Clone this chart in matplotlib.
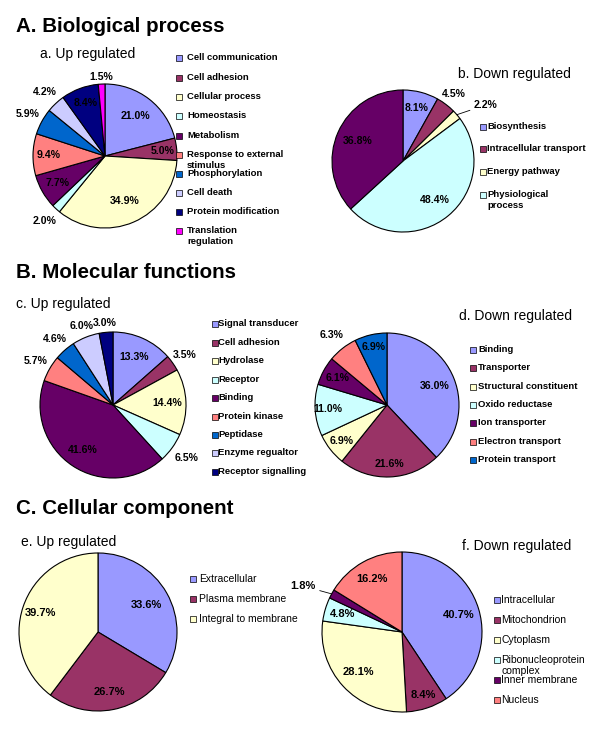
import matplotlib
matplotlib.use('Agg')
import matplotlib.pyplot as plt
from matplotlib.patches import Rectangle
import numpy as np

plt.rcParams['font.family'] = ['Liberation Sans', 'DejaVu Sans']

# ---------------- data ----------------
bp_up_labels = ['Cell communication', 'Cell adhesion', 'Cellular process', 'Homeostasis',
                'Metabolism', 'Response to external\nstimulus', 'Phosphorylation',
                'Cell death', 'Protein modification', 'Translation\nregulation']
bp_up_values = [21.0, 5.0, 34.9, 2.0, 7.7, 9.4, 5.9, 4.2, 8.4, 1.5]

bp_down_labels = ['Biosynthesis', 'Intracellular transport', 'Energy pathway',
                  'Physiological\nprocess']
bp_down_values = [8.1, 4.5, 2.2, 48.4, 36.8]

mf_up_labels = ['Signal transducer', 'Cell adhesion', 'Hydrolase', 'Receptor', 'Binding',
                'Protein kinase', 'Peptidase', 'Enzyme regualtor', 'Receptor signalling']
mf_up_values = [13.3, 3.5, 14.4, 6.5, 41.6, 5.7, 4.6, 6.0, 3.0]

mf_down_labels = ['Binding', 'Transporter', 'Structural constituent', 'Oxido reductase',
                  'Ion transporter', 'Electron transport', 'Protein transport']
mf_down_values = [36.0, 21.6, 6.9, 11.0, 6.1, 6.3, 6.9]

cc_up_labels = ['Extracellular', 'Plasma membrane', 'Integral to membrane']
cc_up_values = [33.6, 26.7, 39.7]

cc_down_labels = ['Intracellular', 'Mitochondrion', 'Cytoplasm',
                  'Ribonucleoprotein\ncomplex', 'Inner membrane', 'Nucleus']
cc_down_values = [40.7, 8.4, 28.1, 4.8, 1.8, 16.2]

palette = ['#9999FF', '#993366', '#FFFFCC', '#CCFFFF', '#660066', '#FF8080',
           '#0066CC', '#CCCCFF', '#000080', '#FF00FF']

# ---------------- layout helpers ----------------
W, H = 600, 733
fig = plt.figure(figsize=(6, 7.33), dpi=100)


def fx(px):
    return px / W


def fy(py):
    return 1 - py / H


def draw_pie(cx, cy, r, values, dists, fs, leaders=None):
    ax = fig.add_axes([fx(cx - r), fy(cy + r), 2 * r / W, 2 * r / H])
    wedges, _ = ax.pie(values, colors=palette[:len(values)], startangle=90,
                       counterclock=False, radius=1,
                       wedgeprops=dict(edgecolor='black', linewidth=0.8))
    ax.set_xlim(-1, 1)
    ax.set_ylim(-1, 1)
    ax.axis('off')
    leaders = leaders or {}
    for i, (w, v) in enumerate(zip(wedges, values)):
        mid = np.deg2rad((w.theta1 + w.theta2) / 2)
        txt = f'{v:.1f}%'
        if i in leaders:
            (tx, ty), ha = leaders[i]
            ax.annotate(txt, xy=(np.cos(mid), np.sin(mid)), xytext=(tx, ty),
                        ha=ha, va='center', fontsize=fs, fontweight='bold',
                        arrowprops=dict(arrowstyle='-', lw=0.6, color='black',
                                        shrinkA=1, shrinkB=0))
        else:
            d = dists[i]
            ax.text(d * np.cos(mid), d * np.sin(mid), txt, ha='center', va='center',
                    fontsize=fs, fontweight='bold', clip_on=False)
    return ax


def draw_legend(sq_x, text_x, ys, labels, colors, fs, weight):
    s = 6
    for y, lab, c in zip(ys, labels, colors):
        fig.patches.append(Rectangle((fx(sq_x), fy(y + s / 2)), s / W, s / H,
                                     transform=fig.transFigure, facecolor=c,
                                     edgecolor='black', linewidth=0.5))
        fig.text(fx(text_x), fy(y - 0.48 * fs * 1.389), lab, ha='left', va='top',
                 fontsize=fs, fontweight=weight, linespacing=1.15)


def title(x, y, s):
    fig.text(fx(x), fy(y), s, fontsize=14.8, fontweight='bold', va='baseline')


def subtitle(x, y, s):
    fig.text(fx(x), fy(y), s, fontsize=10, va='baseline')


# ---------------- A. Biological process ----------------
title(16, 32, 'A. Biological process')
subtitle(40, 58, 'a. Up regulated')
draw_pie(105, 156, 72, bp_up_values,
         [0.70, 0.80, 0.68, 1.24, 0.76, 0.78, 1.22, 1.22, 0.78, 1.10], 7.6)
draw_legend(176, 187, [58, 78, 97, 116, 136, 155, 174, 193, 212, 231],
            bp_up_labels, palette, 6.8, 'bold')

subtitle(458, 78, 'b. Down regulated')
draw_pie(403, 161, 71, bp_down_values, [0.77, 1.18, 1.4, 0.71, 0.70], 7.6,
         leaders={2: ((1.0, 0.79), 'left')})
draw_legend(480, 487, [127, 149, 172, 195], bp_down_labels, palette, 6.8, 'bold')

# ---------------- B. Molecular functions ----------------
title(16, 278, 'B. Molecular functions')
subtitle(16, 308, 'c. Up regulated')
draw_pie(113, 405, 73, mf_up_values,
         [0.72, 1.20, 0.74, 1.24, 0.74, 1.22, 1.20, 1.16, 1.13], 7.6)
draw_legend(212, 218, [324, 343, 361, 380, 398, 417, 435, 453, 472],
            mf_up_labels, palette, 6.8, 'bold')

subtitle(459, 320, 'd. Down regulated')
draw_pie(387, 405, 72, mf_down_values, [0.71, 0.82, 0.80, 0.82, 0.78, 1.24, 0.82], 7.6)
draw_legend(470, 478, [350, 368, 387, 405, 423, 442, 460],
            mf_down_labels, palette, 6.8, 'bold')

# ---------------- C. Cellular component ----------------
title(16, 514, 'C. Cellular component')
subtitle(21, 546, 'e. Up regulated')
draw_pie(98, 632, 79, cc_up_values, [0.70, 0.77, 0.77], 8)
draw_legend(190, 199, [579, 599, 619], cc_up_labels, palette, 7.5, 'normal')

subtitle(462, 550, 'f. Down regulated')
draw_pie(402, 632, 80, cc_down_values, [0.74, 0.83, 0.74, 0.78, 1.5, 0.76], 8,
         leaders={4: ((-1.08, 0.575), 'right')})
draw_legend(494, 501, [600, 620, 640, 660, 680, 700], cc_down_labels, palette, 7.5, 'normal')

fig.savefig('out.png', dpi=100)
